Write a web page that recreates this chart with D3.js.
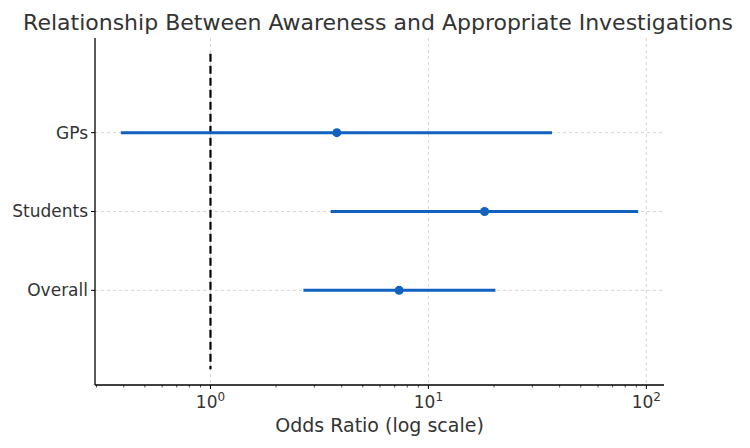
<!DOCTYPE html>
<html>
<head>
<meta charset="utf-8">
<script src="https://cdn.jsdelivr.net/npm/d3@7"></script>
<style>
  body { margin: 0; background: #fff; }
  svg { font-family: "DejaVu Sans", sans-serif; }
</style>
</head>
<body>
<svg id="chart" width="750" height="448"></svg>
<script>
// data
var groups = ['Overall', 'Students', 'GPs'];
var oddsRatio = [7.34, 18.1, 3.80];
var ciLow = [2.67, 3.56, 0.388];
var ciHigh = [20.3, 91.7, 36.9];
var xTicks = [1, 10, 100];

var svg = d3.select('#chart');
var margin = {top: 38, right: 86, bottom: 63, left: 95};
var width = 750 - margin.left - margin.right,
    height = 448 - margin.top - margin.bottom;

var g = svg.append('g')
    .attr('transform', 'translate(' + margin.left + ',' + margin.top + ')');

// log x with 5% padding in log space, like matplotlib autoscale
var lmin = Math.log10(d3.min(ciLow)), lmax = Math.log10(d3.max(ciHigh));
var pad = (lmax - lmin) * 0.05;
var xScale = d3.scaleLog()
    .domain([Math.pow(10, lmin - pad), Math.pow(10, lmax + pad)])
    .range([0, width]);
var yScale = d3.scaleLinear().domain([-1.2, 3.2]).range([height, 0]);

// grid
g.append('g').selectAll('line').data(xTicks).enter().append('line')
    .attr('x1', d => xScale(d)).attr('x2', d => xScale(d))
    .attr('y1', 0).attr('y2', height)
    .attr('stroke', '#cccccc').attr('stroke-width', 0.8)
    .attr('stroke-dasharray', '3,3');
g.append('g').selectAll('line').data(groups).enter().append('line')
    .attr('x1', 0).attr('x2', width)
    .attr('y1', (d, i) => yScale(i)).attr('y2', (d, i) => yScale(i))
    .attr('stroke', '#cccccc').attr('stroke-width', 0.8)
    .attr('stroke-dasharray', '3,3');

// reference line at OR = 1
g.append('line')
    .attr('x1', xScale(1)).attr('x2', xScale(1))
    .attr('y1', yScale(3)).attr('y2', yScale(-1))
    .attr('stroke', '#000').attr('stroke-width', 2.2)
    .attr('stroke-dasharray', '8,4');

// confidence intervals
var blue = '#1161bf';
g.append('g').selectAll('line').data(groups).enter().append('line')
    .attr('x1', (d, i) => xScale(ciLow[i]))
    .attr('x2', (d, i) => xScale(ciHigh[i]))
    .attr('y1', (d, i) => yScale(i)).attr('y2', (d, i) => yScale(i))
    .attr('stroke', blue).attr('stroke-width', 3);
g.append('g').selectAll('circle').data(groups).enter().append('circle')
    .attr('cx', (d, i) => xScale(oddsRatio[i]))
    .attr('cy', (d, i) => yScale(i))
    .attr('r', 4.5)
    .attr('fill', blue);

// x axis with minor ticks
var minor = [];
[0.1, 1, 10, 100].forEach(function (b) {
    for (var k = 2; k <= 9; k++) {
        var v = b * k;
        if (v >= xScale.domain()[0] && v <= xScale.domain()[1]) minor.push(v);
    }
});
var xAxis = g.append('g').attr('transform', 'translate(0,' + height + ')');
xAxis.selectAll('.minor').data(minor).enter().append('line')
    .attr('class', 'minor')
    .attr('x1', d => xScale(d)).attr('x2', d => xScale(d))
    .attr('y1', 0).attr('y2', 2.5)
    .attr('stroke', '#000').attr('stroke-width', 0.7);
xAxis.selectAll('.major').data(xTicks).enter().append('line')
    .attr('class', 'major')
    .attr('x1', d => xScale(d)).attr('x2', d => xScale(d))
    .attr('y1', 0).attr('y2', 4)
    .attr('stroke', '#000').attr('stroke-width', 1);
var lbl = xAxis.selectAll('text').data(xTicks).enter().append('text')
    .attr('x', d => xScale(d)).attr('y', 23)
    .attr('text-anchor', 'middle')
    .attr('font-size', '17px').attr('fill', '#333');
lbl.append('tspan').text('10');
lbl.append('tspan').attr('dy', -7).attr('font-size', '12px')
    .text(d => Math.round(Math.log10(d)));
xAxis.append('line').attr('x1', 0).attr('x2', width)
    .attr('stroke', '#000').attr('stroke-width', 1.3);

// y axis
var yAxis = g.append('g');
yAxis.selectAll('line.tk').data(groups).enter().append('line')
    .attr('class', 'tk')
    .attr('x1', -4).attr('x2', 0)
    .attr('y1', (d, i) => yScale(i)).attr('y2', (d, i) => yScale(i))
    .attr('stroke', '#000');
yAxis.selectAll('text').data(groups).enter().append('text')
    .attr('x', -7).attr('y', (d, i) => yScale(i))
    .attr('dy', '0.35em')
    .attr('text-anchor', 'end')
    .attr('font-size', '17px').attr('fill', '#333')
    .text(d => d);
yAxis.append('line').attr('y1', 0).attr('y2', height)
    .attr('stroke', '#000').attr('stroke-width', 1.3);

// labels
svg.append('text')
    .attr('x', margin.left + width / 2).attr('y', 432)
    .attr('text-anchor', 'middle')
    .attr('font-size', '19px').attr('fill', '#333')
    .text('Odds Ratio (log scale)');
svg.append('text')
    .attr('x', 378).attr('y', 30)
    .attr('text-anchor', 'middle')
    .attr('font-size', '22px').attr('fill', '#333')
    .text('Relationship Between Awareness and Appropriate Investigations');
</script>
</body>
</html>
